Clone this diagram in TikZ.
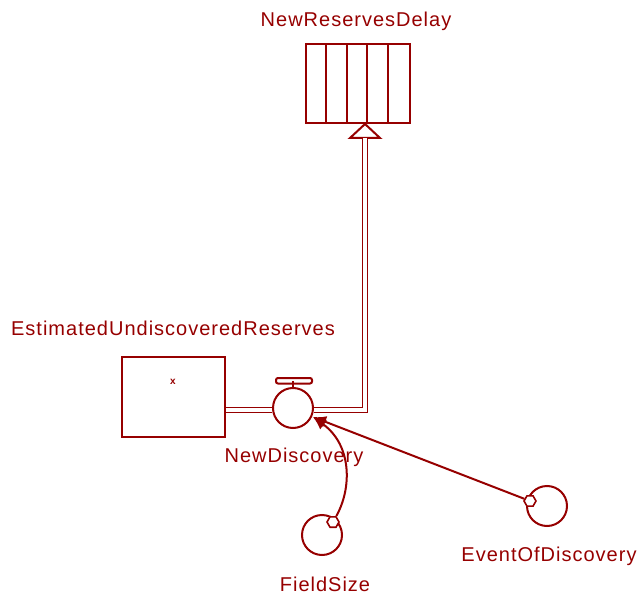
\documentclass[tikz,border=0pt]{standalone}
\usepackage{fontspec}
\setmainfont{Liberation Sans}[LetterSpace=5]
\usetikzlibrary{arrows.meta,shapes.geometric}
\definecolor{vred}{RGB}{150,0,0}
\tikzset{
  stockbox/.style={draw=vred,line width=2pt,minimum width=103pt,minimum height=80pt,inner sep=0pt},
  delaybox/.style={draw=vred,line width=2pt,minimum width=104pt,minimum height=79pt,inner sep=0pt},
  auxvar/.style={draw=vred,line width=2pt,circle,minimum size=40pt,inner sep=0pt},
  lbl/.style={text=vred,font=\fontsize{20}{22}\selectfont,inner sep=0pt,anchor=base},
  pipe/.style={draw=vred,line width=1.6pt,double=white,double distance=3.2pt},
  link/.style={draw=vred,line width=2pt,-{Latex[length=13pt,width=12pt]}},
  tail/.style={draw=vred,line width=1.6pt,regular polygon,regular polygon sides=6,minimum size=12pt,inner sep=0pt,fill=white}
}
\begin{document}
\begin{tikzpicture}[x=1pt,y=-1pt]
\useasboundingbox (0,0) rectangle (640,599);
% delay
\node[delaybox] (delay) at (358,84) {};
\foreach \i in {1,...,4}
  \draw[vred,line width=2pt] ([xshift=\i*20.8pt]delay.north west) -- ([xshift=\i*20.8pt]delay.south west);
\node[lbl] (delaylbl) at (356,26.5) {NewReservesDelay};
% stock
\node[stockbox] (reserves) at (173.5,397) {};
\node[text=vred,font=\fontsize{10}{10}\selectfont\bfseries,inner sep=0pt] (resmark) at (173,382) {x};
\node[lbl] (reslbl) at (173,335) {EstimatedUndiscoveredReserves};
% flow
\node[auxvar] (newdisc) at (293,408) {};
\node[lbl] (newdisclbl) at (294,462.5) {NewDiscovery};
\draw[vred,line width=2pt] (newdisc.north) -- ++(0,-6) coordinate (stem);
\draw[vred,line width=2pt,rounded corners=2pt] (276,378) rectangle (312,383.5);
\coordinate (pipein) at (reserves.east |- 0,410);
\coordinate (pipeout) at (365,138);
\draw[pipe] (pipein) -- (newdisc.west |- pipein);
\draw[pipe] (newdisc.east |- pipein) -| (pipeout);
\draw[vred,line width=2pt,fill=white] (350,138) -- (365,124) -- (380,138) -- cycle;
\draw[pipe] (365,141) -- (pipeout);
% auxiliaries
\node[auxvar] (fieldsize) at (322,535) {};
\node[lbl] (fieldsizelbl) at (325,591.5) {FieldSize};
\node[auxvar] (event) at (547,506) {};
\node[lbl] (eventlbl) at (549,561.5) {EventOfDiscovery};
\node[tail] (fsmark) at (333,522) {};
\node[tail] (evmark) at (530,501) {};
\coordinate (flowtip) at (313,417);
\draw[link] (fsmark) .. controls (352,488) and (352,445) .. (flowtip);
\draw[link] (evmark) -- (flowtip);
\end{tikzpicture}
\end{document}
